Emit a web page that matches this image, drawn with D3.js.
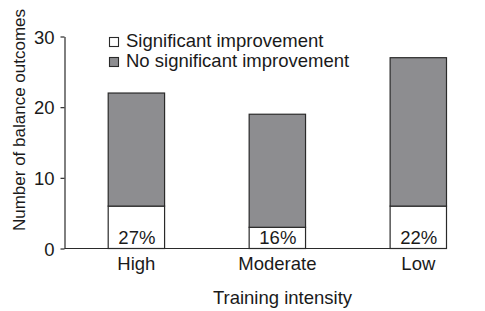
<!DOCTYPE html>
<html>
<head>
<meta charset="utf-8">
<script src="https://cdn.jsdelivr.net/npm/d3@7"></script>
<style>
  body { margin: 0; background: #fff; }
  text { font-family: "Liberation Sans", Arial, sans-serif; fill: #1a1a1a; }
</style>
</head>
<body>
<svg width="485" height="311"></svg>
<script>
// data
var categories = ["High", "Moderate", "Low"];
var significant = [6, 3, 6];
var noSignificant = [16, 16, 21];
var percentLabels = ["27%", "16%", "22%"];
var yTicks = [0, 10, 20, 30];
var seriesNames = ["Significant improvement", "No significant improvement"];
var seriesColors = ["#ffffff", "#8d8d90"];

var svg = d3.select("svg");
var mLeft = 64, mRight = 446, mTop = 36, mBottom = 248;
var fs = 18.5;

var x = d3.scaleBand()
    .domain(categories)
    .range([mLeft, mRight])
    .paddingInner(0.6)
    .paddingOuter(0.155)
    .align(1);

var y = d3.scaleLinear()
    .domain([0, 30])
    .range([mBottom, mTop]);

var rows = categories.map(function(c, i) {
    return {cat: c, s: significant[i], n: noSignificant[i], pct: percentLabels[i]};
});
var stacked = d3.stack().keys(["s", "n"])(rows);

// bars
svg.append("g")
    .selectAll("g")
    .data(stacked)
    .join("g")
    .attr("fill", function(d, i) { return seriesColors[i]; })
    .selectAll("rect")
    .data(function(d) { return d; })
    .join("rect")
    .attr("x", function(d) { return x(d.data.cat) + 0.5; })
    .attr("y", function(d) { return y(d[1]) + 0.5; })
    .attr("width", x.bandwidth())
    .attr("height", function(d) { return y(d[0]) - y(d[1]); })
    .attr("stroke", "#2a2a2a")
    .attr("stroke-width", 1.2);

// percent labels
svg.append("g")
    .selectAll("text")
    .data(rows)
    .join("text")
    .attr("x", function(d) { return x(d.cat) + x.bandwidth() / 2 + 1; })
    .attr("y", mBottom - 4.5)
    .attr("text-anchor", "middle")
    .attr("font-size", fs)
    .text(function(d) { return d.pct; });

// y axis
var yAxis = svg.append("g")
    .attr("transform", "translate(" + (mLeft + 0.5) + ",0.5)")
    .call(d3.axisLeft(y).tickValues(yTicks).tickSize(4).tickPadding(6).tickSizeOuter(0));
yAxis.select(".domain").attr("stroke", "#2a2a2a").attr("stroke-width", 1.2);
yAxis.selectAll(".tick line").attr("stroke", "#2a2a2a").attr("stroke-width", 1.2);
yAxis.selectAll(".tick text").attr("font-size", fs).attr("font-family", null).attr("fill", "#1a1a1a")
    .attr("dy", "0.36em");

// x axis
var xAxis = svg.append("g")
    .attr("transform", "translate(0.5," + (mBottom + 0.5) + ")")
    .call(d3.axisBottom(x).tickSize(0).tickPadding(8).tickSizeOuter(0));
xAxis.select(".domain").attr("stroke", "#2a2a2a").attr("stroke-width", 1.2)
    .attr("d", "M" + mLeft + ",0H" + (mRight + 0.5));
xAxis.selectAll(".tick text").attr("font-size", fs).attr("font-family", null).attr("fill", "#1a1a1a")
    .attr("dy", "0.71em");

// axis titles
svg.append("text")
    .attr("x", 282.5)
    .attr("y", 304)
    .attr("text-anchor", "middle")
    .attr("font-size", fs)
    .text("Training intensity");

svg.append("text")
    .attr("transform", "translate(25,120) rotate(-90)")
    .attr("text-anchor", "middle")
    .attr("font-size", 17)
    .text("Number of balance outcomes");

// legend
var legend = svg.append("g")
    .selectAll("g")
    .data(seriesNames)
    .join("g")
    .attr("transform", function(d, i) { return "translate(109," + (37 + i * 20) + ")"; });
legend.append("rect")
    .attr("x", 0.5)
    .attr("y", 0.5)
    .attr("width", 9)
    .attr("height", 9)
    .attr("fill", function(d, i) { return seriesColors[i]; })
    .attr("stroke", "#2a2a2a")
    .attr("stroke-width", 1.1);
legend.append("text")
    .attr("x", 17)
    .attr("y", 10)
    .attr("font-size", fs)
    .text(function(d) { return d; });
</script>
</body>
</html>
